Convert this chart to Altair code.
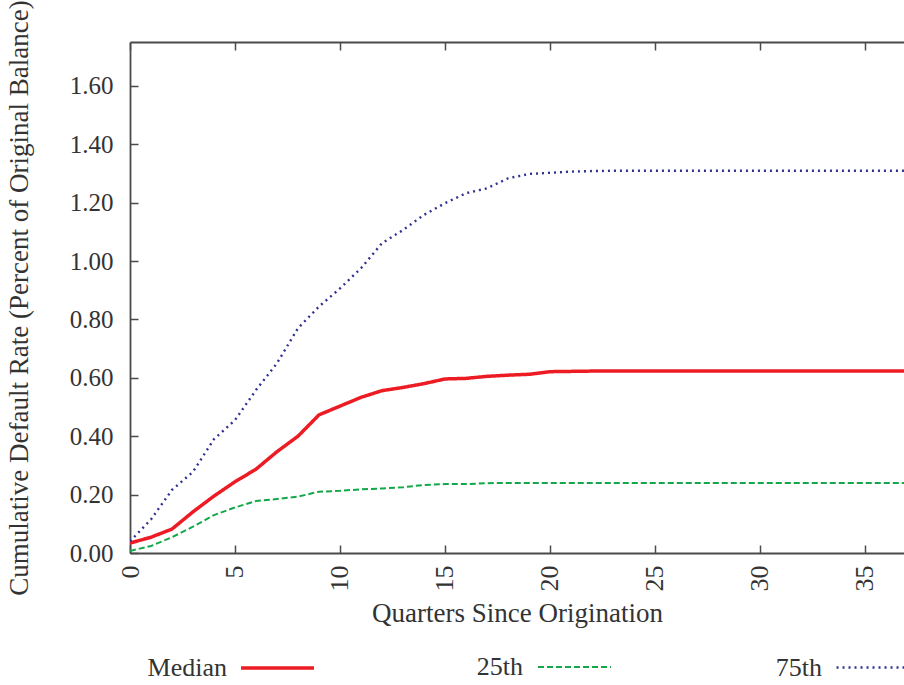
import altair as alt
import pandas as pd

quarters = list(range(0, 38))
median = [0.034, 0.054, 0.082, 0.141, 0.195, 0.244, 0.287, 0.347, 0.400, 0.473,
          0.503, 0.533, 0.556, 0.567, 0.580, 0.596, 0.598, 0.605, 0.609, 0.612,
          0.621, 0.622, 0.623, 0.623, 0.623, 0.623, 0.623, 0.623, 0.623, 0.623,
          0.623, 0.623, 0.623, 0.623, 0.623, 0.623, 0.623, 0.623]
p25 = [0.007, 0.024, 0.054, 0.090, 0.130, 0.156, 0.178, 0.185, 0.193, 0.210,
       0.213, 0.218, 0.221, 0.225, 0.233, 0.236, 0.236, 0.239, 0.240, 0.240,
       0.240, 0.240, 0.240, 0.240, 0.240, 0.240, 0.240, 0.240, 0.240, 0.240,
       0.240, 0.240, 0.240, 0.240, 0.240, 0.240, 0.240, 0.240]
p75 = [0.040, 0.115, 0.216, 0.278, 0.390, 0.455, 0.558, 0.650, 0.770, 0.844,
       0.906, 0.975, 1.061, 1.106, 1.158, 1.198, 1.232, 1.249, 1.283, 1.298,
       1.302, 1.306, 1.308, 1.309, 1.309, 1.309, 1.309, 1.309, 1.309, 1.309,
       1.309, 1.309, 1.309, 1.309, 1.309, 1.309, 1.309, 1.309]
series_names = ["Median", "25th", "75th"]
series_colors = ["#ED1C24", "#12A84A", "#2E3192"]
x_ticks = [0, 5, 10, 15, 20, 25, 30, 35]
y_ticks = [0.0, 0.2, 0.4, 0.6, 0.8, 1.0, 1.2, 1.4, 1.6]

rows = []
for name, vals in zip(series_names, [median, p25, p75]):
    for q, v in zip(quarters, vals):
        rows.append({"q": q, "v": v, "series": name})
df = pd.DataFrame(rows)

W, H = 774, 511
FONT = "Liberation Serif"
TXT = "#333333"
AX = "#4a4a4a"
xscale = alt.Scale(domain=[0, 36.86], nice=False, zero=False)
yscale = alt.Scale(domain=[0, 1.75], nice=False)

base = alt.Chart(df)

dashes = [[1, 0], [6, 3], [2, 4]]
widths = [3.5, 2.0, 2.4]
legend_x = [3, 301, 599]
# legend sample line drawn to the right of its (right-aligned) label
SYM_PATH = "M1.356,0H2.978"

series_layers = []
for i, name in enumerate(series_names):
    if i == 0:
        xax = alt.Axis(values=x_ticks, labelAngle=270, ticks=False, domain=True,
                       domainColor=AX, domainWidth=1.8, labelPadding=12,
                       title="Quarters Since Origination", titlePadding=9,
                       labelFontSize=26, titleFontSize=27)
        yax = alt.Axis(values=y_ticks, format=".2f", ticks=False, domain=True,
                       domainColor=AX, domainWidth=1.8, labelPadding=17,
                       title="Cumulative Default Rate (Percent of Original Balance)",
                       titlePadding=36, labelFontSize=25, titleFontSize=27)
        xe = alt.X("q:Q", scale=xscale, axis=xax)
        ye = alt.Y("v:Q", scale=yscale, axis=yax)
    else:
        xe = alt.X("q:Q", scale=xscale, axis=None)
        ye = alt.Y("v:Q", scale=yscale, axis=None)
    layer = base.transform_filter(alt.datum.series == name).mark_line(
        clip=True, strokeWidth=widths[i], strokeDash=dashes[i]
    ).encode(
        x=xe, y=ye,
        color=alt.Color("series:N",
                        scale=alt.Scale(domain=[name], range=[series_colors[i]]),
                        legend=alt.Legend(orient="none", legendX=legend_x[i], legendY=579,
                                          title=None, symbolType=SYM_PATH,
                                          symbolSize=90 * 90,
                                          symbolStrokeWidth=widths[i],
                                          symbolDash=dashes[i],
                                          labelAlign="right", labelOffset=0,
                                          labelFontSize=26, labelFont=FONT,
                                          labelColor=TXT))
    )
    series_layers.append(layer)

invis = base.mark_line(opacity=0)
# inward ticks at bottom
tick_bottom = invis.encode(
    x=alt.X("q:Q", scale=xscale, axis=alt.Axis(orient="top", offset=-H, values=x_ticks,
                                              labels=False, domain=False, ticks=True,
                                              tickSize=8, tickColor=AX, tickWidth=1.5,
                                              title=None)),
    y=alt.Y("v:Q", scale=yscale, axis=None))
# top border with inward ticks
tick_top = invis.encode(
    x=alt.X("q:Q", scale=xscale, axis=alt.Axis(orient="bottom", offset=-H, values=x_ticks,
                                              labels=False, domain=True, domainColor=AX,
                                              domainWidth=1.8, ticks=True,
                                              tickSize=8, tickColor=AX, tickWidth=1.5,
                                              title=None)),
    y=alt.Y("v:Q", scale=yscale, axis=None))
# inward ticks at left
tick_left = invis.encode(
    x=alt.X("q:Q", scale=xscale, axis=None),
    y=alt.Y("v:Q", scale=yscale, axis=alt.Axis(orient="right", offset=-W, values=y_ticks,
                                              labels=False, domain=False, ticks=True,
                                              tickSize=8, tickColor=AX, tickWidth=1.5,
                                              title=None)))

chart = alt.layer(*series_layers, tick_bottom, tick_top, tick_left).resolve_scale(
    color="independent"
).resolve_axis(
    x="independent", y="independent"
).resolve_legend(
    color="independent"
).properties(
    width=W, height=H,
    padding={"left": 130, "top": 42, "right": 0, "bottom": 132},
    autosize=alt.AutoSizeParams(type="none"),
).configure_view(
    stroke="transparent"
).configure_axis(
    grid=False, labelFont=FONT, titleFont=FONT, labelColor=TXT, titleColor=TXT,
    titleFontWeight="normal"
)

chart.save("out.html", embed_options={"renderer": "svg", "actions": False})
